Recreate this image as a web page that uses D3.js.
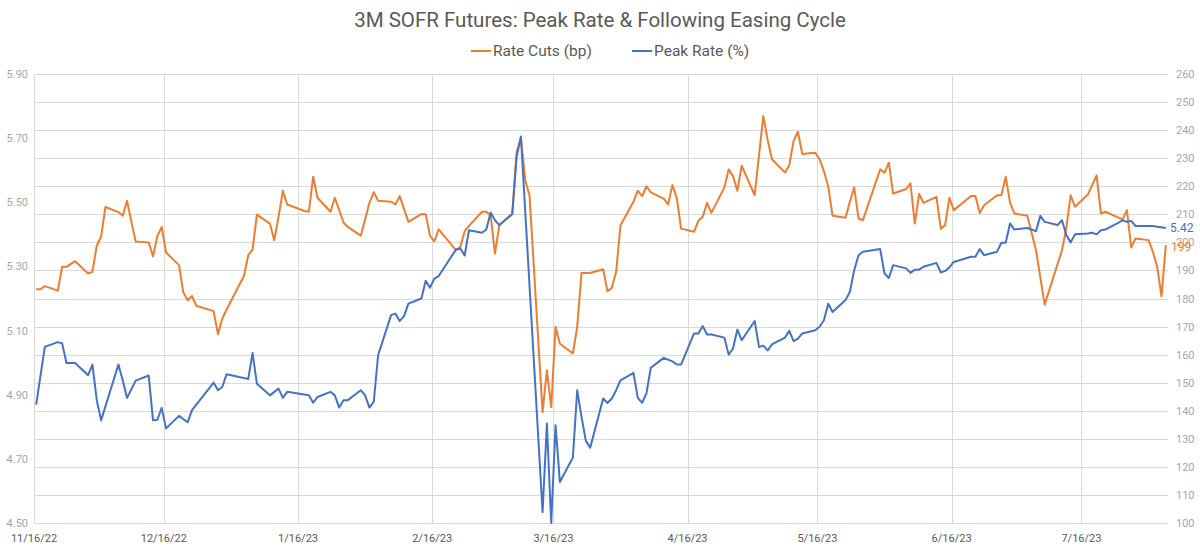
<!DOCTYPE html>
<html><head><meta charset="utf-8">
<script src="https://cdn.jsdelivr.net/npm/d3@7"></script>
<style>
html,body{margin:0;padding:0;background:#fff;}
svg{display:block;font-family:Roboto,"Open Sans",sans-serif;}
</style></head>
<body>
<svg id="chart" width="1200" height="548"></svg>
<script>
const title = "3M SOFR Futures: Peak Rate & Following Easing Cycle";
const seriesNames = ["Rate Cuts (bp)", "Peak Rate (%)"];
const xTickLabels = ["11/16/22","12/16/22","1/16/23","2/16/23","3/16/23","4/16/23","5/16/23","6/16/23","7/16/23"];
const leftTicks = [4.50,4.70,4.90,5.10,5.30,5.50,5.70,5.90];
const rightTicks = [100,110,120,130,140,150,160,170,180,190,200,210,220,230,240,250,260];

const cutsDates = ["11/16/22","11/17/22","11/18/22","11/21/22","11/22/22","11/23/22","11/25/22","11/28/22","11/29/22","11/30/22",
"12/1/22","12/2/22","12/5/22","12/6/22","12/7/22","12/8/22","12/9/22","12/12/22","12/13/22","12/14/22","12/15/22","12/16/22",
"12/19/22","12/20/22","12/21/22","12/22/22","12/23/22","12/27/22","12/28/22","12/29/22","12/30/22",
"1/3/23","1/4/23","1/5/23","1/6/23","1/9/23","1/10/23","1/11/23","1/12/23","1/13/23","1/17/23","1/18/23","1/19/23","1/20/23",
"1/23/23","1/24/23","1/26/23","1/27/23","1/30/23","2/1/23","2/2/23","2/3/23","2/6/23","2/7/23","2/8/23","2/10/23",
"2/13/23","2/14/23","2/15/23","2/16/23","2/17/23","2/21/23","2/22/23","2/23/23","2/24/23","2/27/23","2/28/23",
"3/1/23","3/2/23","3/3/23","3/6/23","3/7/23","3/8/23","3/9/23","3/10/23","3/13/23","3/14/23","3/15/23","3/16/23","3/17/23",
"3/20/23","3/21/23","3/22/23","3/24/23","3/27/23","3/28/23","3/29/23","3/30/23","3/31/23",
"4/3/23","4/4/23","4/5/23","4/6/23","4/7/23","4/10/23","4/11/23","4/12/23","4/13/23","4/14/23","4/17/23","4/18/23","4/19/23",
"4/20/23","4/21/23","4/24/23","4/25/23","4/26/23","4/27/23","4/28/23","5/1/23","5/3/23","5/4/23","5/5/23","5/8/23","5/9/23",
"5/10/23","5/11/23","5/12/23","5/15/23","5/16/23","5/17/23","5/18/23","5/19/23","5/22/23","5/23/23","5/24/23","5/25/23","5/26/23",
"5/30/23","5/31/23","6/1/23","6/2/23","6/5/23","6/6/23","6/7/23","6/8/23","6/9/23","6/12/23","6/13/23","6/14/23","6/15/23","6/16/23",
"6/20/23","6/21/23","6/22/23","6/23/23","6/26/23","6/27/23","6/28/23","6/29/23","6/30/23","7/3/23","7/5/23","7/7/23",
"7/11/23","7/12/23","7/13/23","7/14/23","7/17/23","7/19/23","7/20/23","7/21/23","7/25/23","7/26/23","7/27/23","7/28/23",
"7/31/23","8/1/23","8/2/23","8/3/23","8/4/23"];
const cutsValues = [183.3,183.3,184.4,182.8,191.3,191.3,193.3,188.9,189.5,198.8,
202.0,212.6,210.8,209.5,214.8,207.3,200.3,200.0,195.0,202.3,205.5,196.4,
191.9,182.1,179.4,180.9,177.4,175.5,167.3,172.8,176.1,
188.0,195.4,197.5,209.9,206.7,200.8,209.1,218.4,213.5,211.2,210.9,223.4,215.9,
210.9,215.9,207.1,205.5,202.4,214.1,217.9,214.8,214.5,213.5,216.5,207.3,
210.1,210.0,202.3,200.4,204.6,197.2,198.4,204.0,205.9,210.9,210.9,
209.6,196.0,206.1,210.3,232.3,237.1,222.2,216.5,139.5,154.4,141.3,169.9,163.9,
160.4,169.9,189.1,189.1,190.4,182.6,183.8,189.5,206.1,
214.5,218.4,216.5,220.0,217.8,215.6,213.5,220.4,215.9,204.9,203.8,207.7,209.1,
214.1,210.5,219.6,226.0,223.6,218.4,227.3,216.8,245.0,236.5,229.6,224.9,227.5,
236.2,239.4,231.5,231.9,229.6,225.4,219.8,209.5,208.8,214.5,219.6,208.5,207.9,
226.0,224.8,228.4,217.4,219.0,221.0,206.7,217.3,214.1,216.2,204.9,206.1,215.9,211.5,
216.5,216.5,210.5,213.2,216.8,216.8,223.4,214.2,210.3,209.5,197.2,177.8,
197.2,205.0,216.8,212.7,217.1,223.9,210.3,210.9,208.2,211.5,198.2,201.4,
200.8,196.6,191.3,180.8,199.0];

const peakDates = ["11/16/22","11/18/22","11/21/22","11/22/22","11/23/22","11/25/22","11/28/22","11/29/22","11/30/22",
"12/1/22","12/5/22","12/6/22","12/7/22","12/9/22","12/12/22","12/13/22","12/14/22","12/15/22","12/16/22",
"12/19/22","12/21/22","12/22/22","12/27/22","12/28/22","12/29/22","12/30/22",
"1/4/23","1/5/23","1/6/23","1/9/23","1/11/23","1/12/23","1/13/23","1/18/23","1/19/23","1/20/23",
"1/23/23","1/24/23","1/25/23","1/26/23","1/27/23","1/30/23","1/31/23","2/1/23","2/2/23","2/3/23",
"2/6/23","2/7/23","2/8/23","2/9/23","2/10/23","2/13/23","2/14/23","2/15/23","2/16/23","2/17/23",
"2/21/23","2/22/23","2/23/23","2/24/23","2/27/23","2/28/23","3/1/23","3/2/23","3/3/23","3/6/23","3/7/23","3/8/23",
"3/13/23","3/14/23","3/15/23","3/16/23","3/17/23","3/20/23","3/21/23","3/22/23","3/23/23","3/24/23",
"3/27/23","3/28/23","3/29/23","3/30/23","3/31/23","4/3/23","4/4/23","4/5/23","4/6/23","4/7/23",
"4/10/23","4/12/23","4/13/23","4/14/23","4/17/23","4/18/23","4/19/23","4/20/23","4/21/23",
"4/24/23","4/25/23","4/26/23","4/27/23","4/28/23","5/1/23","5/2/23","5/3/23","5/4/23","5/5/23",
"5/8/23","5/9/23","5/10/23","5/11/23","5/12/23","5/15/23","5/16/23","5/17/23","5/18/23","5/19/23",
"5/22/23","5/23/23","5/24/23","5/25/23","5/26/23","5/30/23","5/31/23","6/1/23","6/2/23",
"6/5/23","6/6/23","6/7/23","6/8/23","6/9/23","6/12/23","6/13/23","6/14/23","6/15/23","6/16/23",
"6/20/23","6/21/23","6/22/23","6/23/23","6/26/23","6/27/23","6/28/23","6/29/23","6/30/23",
"7/3/23","7/5/23","7/6/23","7/7/23","7/10/23","7/11/23","7/12/23","7/13/23","7/14/23",
"7/17/23","7/18/23","7/19/23","7/20/23","7/21/23","7/24/23","7/25/23","7/26/23","7/27/23","7/28/23",
"7/31/23","8/1/23","8/2/23","8/3/23","8/4/23"];
const peakValues = [4.869,5.049,5.064,5.060,4.999,4.999,4.961,4.994,4.883,
4.820,4.994,4.945,4.890,4.944,4.960,4.820,4.822,4.859,4.795,
4.834,4.814,4.852,4.938,4.914,4.924,4.964,
4.949,5.030,4.934,4.898,4.919,4.890,4.909,4.898,4.875,4.893,
4.909,4.898,4.860,4.883,4.883,4.914,4.898,4.860,4.878,5.023,
5.148,5.153,5.130,5.145,5.184,5.200,5.255,5.234,5.262,5.270,
5.353,5.356,5.334,5.413,5.405,5.415,5.468,5.444,5.429,5.463,5.642,5.705,
4.534,4.810,4.500,4.805,4.628,4.704,4.914,4.831,4.756,4.735,
4.888,4.874,4.888,4.914,4.945,4.968,4.890,4.875,4.904,4.984,
5.015,5.004,4.994,4.994,5.091,5.091,5.114,5.088,5.088,
5.078,5.025,5.044,5.103,5.070,5.130,5.049,5.053,5.038,5.057,
5.078,5.099,5.067,5.075,5.091,5.101,5.112,5.132,5.184,5.158,
5.195,5.221,5.288,5.335,5.346,5.354,5.278,5.264,5.304,
5.294,5.280,5.290,5.290,5.299,5.311,5.281,5.286,5.297,5.314,
5.330,5.330,5.354,5.335,5.346,5.374,5.374,5.434,5.415,
5.420,5.410,5.458,5.439,5.429,5.444,5.398,5.375,5.400,
5.403,5.405,5.400,5.413,5.415,5.436,5.444,5.439,5.442,5.426,
5.426,5.426,5.424,5.422,5.420];

const parse = d3.timeParse("%m/%d/%y");
const cuts = cutsDates.map((d,i)=>({date:parse(d), v:cutsValues[i]}));
const peak = peakDates.map((d,i)=>({date:parse(d), v:peakValues[i]}));

const svg = d3.select("#chart");
const L = 34, R = 1168, T = 74, B = 523;
const orange = "#ED7D31", blue = "#4472C4";
const gridColor = "#d9d9d9";

const x = d3.scaleTime().domain([parse("11/16/22"), parse("8/5/23")]).range([L, R]);
const yL = d3.scaleLinear().domain([4.5, 5.9]).range([B, T]);
const yR = d3.scaleLinear().domain([100, 260]).range([B, T]);
const half = 12*3600*1000;
const xp = d => x(new Date(d.getTime() + half));

svg.append("g").selectAll("line").data(rightTicks).join("line")
  .attr("x1", L).attr("x2", R)
  .attr("y1", d=>Math.round(yR(d))+0.5).attr("y2", d=>Math.round(yR(d))+0.5)
  .attr("stroke", gridColor).attr("stroke-width", 1);

const xTickDates = xTickLabels.map(parse);
svg.append("g").selectAll("line").data(xTickDates).join("line")
  .attr("x1", d=>Math.round(x(d))+0.5).attr("x2", d=>Math.round(x(d))+0.5)
  .attr("y1", T).attr("y2", B)
  .attr("stroke", gridColor).attr("stroke-width", 1);

svg.append("g").selectAll("text").data(leftTicks).join("text")
  .attr("x", 28).attr("y", d=>yL(d)+4)
  .attr("text-anchor","end").attr("font-size", 11).attr("fill", "#a6a6a6")
  .text(d=>d.toFixed(2));

svg.append("g").selectAll("text").data(rightTicks).join("text")
  .attr("x", 1176).attr("y", d=>yR(d)+4)
  .attr("text-anchor","start").attr("font-size", 11).attr("fill", "#a6a6a6")
  .text(d=>d);

svg.append("g").selectAll("text").data(xTickDates).join("text")
  .attr("x", d=>x(d)).attr("y", 542)
  .attr("text-anchor","middle").attr("font-size", 11).attr("fill", "#595959")
  .text((d,i)=>xTickLabels[i]);

const lineCuts = d3.line().x(d=>xp(d.date)).y(d=>yR(d.v));
const linePeak = d3.line().x(d=>xp(d.date)).y(d=>yL(d.v));
svg.append("path").datum(cuts).attr("d", lineCuts)
  .attr("fill","none").attr("stroke", orange).attr("stroke-width", 2).attr("stroke-linejoin","round");
svg.append("path").datum(peak).attr("d", linePeak)
  .attr("fill","none").attr("stroke", blue).attr("stroke-width", 2).attr("stroke-linejoin","round");

const lastP = peak[peak.length-1], lastC = cuts[cuts.length-1];
svg.append("text").attr("x", 1170).attr("y", yL(lastP.v)+4)
  .attr("font-size", 12).attr("fill", blue).text(lastP.v.toFixed(2));
svg.append("text").attr("x", 1171).attr("y", yR(lastC.v)+6)
  .attr("font-size", 12).attr("fill", orange).text(Math.round(lastC.v));

svg.append("text").attr("x", 600).attr("y", 27).attr("text-anchor","middle")
  .attr("font-size", 20.5).attr("fill", "#595959").text(title);

const leg = svg.append("g");
const legItems = [{name:seriesNames[0], color:orange, x:471},{name:seriesNames[1], color:blue, x:632}];
legItems.forEach(it=>{
  leg.append("line").attr("x1", it.x).attr("x2", it.x+20).attr("y1", 51).attr("y2", 51)
    .attr("stroke", it.color).attr("stroke-width", 2);
  leg.append("text").attr("x", it.x+22).attr("y", 56).attr("font-size", 15.5).attr("fill","#595959").text(it.name);
});
</script>
</body></html>
